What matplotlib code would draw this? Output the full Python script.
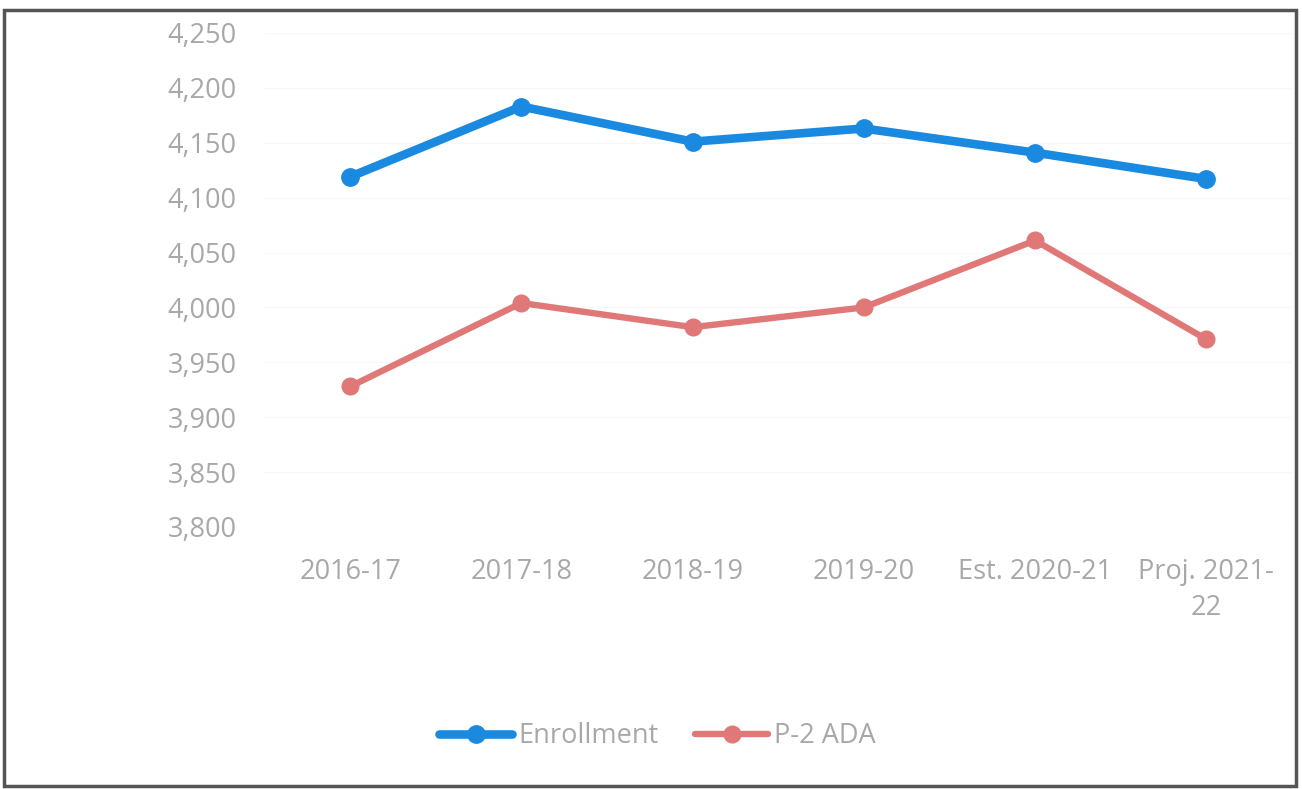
import matplotlib
matplotlib.use("Agg")
import matplotlib.pyplot as plt
from matplotlib.patches import Rectangle
from matplotlib.ticker import FuncFormatter

categories = ["2016-17", "2017-18", "2018-19", "2019-20", "Est. 2020-21", "Proj. 2021-\n22"]
enrollment = [4119, 4183, 4151, 4163, 4141, 4117]
p2_ada = [3928, 4004, 3982, 4000, 4061, 3971]
y_ticks = [3800, 3850, 3900, 3950, 4000, 4050, 4100, 4150, 4200, 4250]

plt.rcParams['font.family'] = ['Open Sans', 'DejaVu Sans']
text_color = '#a8a8a8'

fig = plt.figure(figsize=(13.02, 7.89), dpi=100)
ax = fig.add_axes([0.2032, 0.3321, 0.789, 0.6261])

x = list(range(len(categories)))
l1, = ax.plot(x, enrollment, color='#1a8ae0', lw=6.2, marker='o', ms=12.5,
              solid_capstyle='round', label='Enrollment', zorder=3)
l2, = ax.plot(x, p2_ada, color='#e07878', lw=4.6, marker='o', ms=12,
              solid_capstyle='round', label='P-2 ADA', zorder=3)

ax.set_xlim(-0.5, len(categories) - 0.5)
ax.set_ylim(3800, 4250)
ax.set_yticks(y_ticks)
ax.yaxis.set_major_formatter(FuncFormatter(lambda v, p: f"{int(v):,}"))
ax.set_xticks(x)
ax.set_xticklabels(categories, linespacing=1.35)
ax.tick_params(axis='both', length=0, labelsize=19.5, labelcolor=text_color)
ax.tick_params(axis='y', pad=20)
ax.tick_params(axis='x', pad=22.5)
for s in ax.spines.values():
    s.set_visible(False)
ax.grid(axis='y', color='#f8f8f8', lw=1)
ax.set_axisbelow(True)

leg = fig.legend(handles=[l1, l2], loc='center', bbox_to_anchor=(0.505, 1 - 736 / 789),
                 ncol=2, frameon=False, fontsize=19.5, handlelength=2.7,
                 handletextpad=0.22, columnspacing=1.35)
for t in leg.get_texts():
    t.set_color(text_color)

fig.patches.append(Rectangle((4 / 1302, 1 - 786 / 789), 1292 / 1302, 776 / 789,
                             transform=fig.transFigure, fill=False,
                             edgecolor='#555555', lw=2.5))

fig.savefig("out.png", dpi=100)
